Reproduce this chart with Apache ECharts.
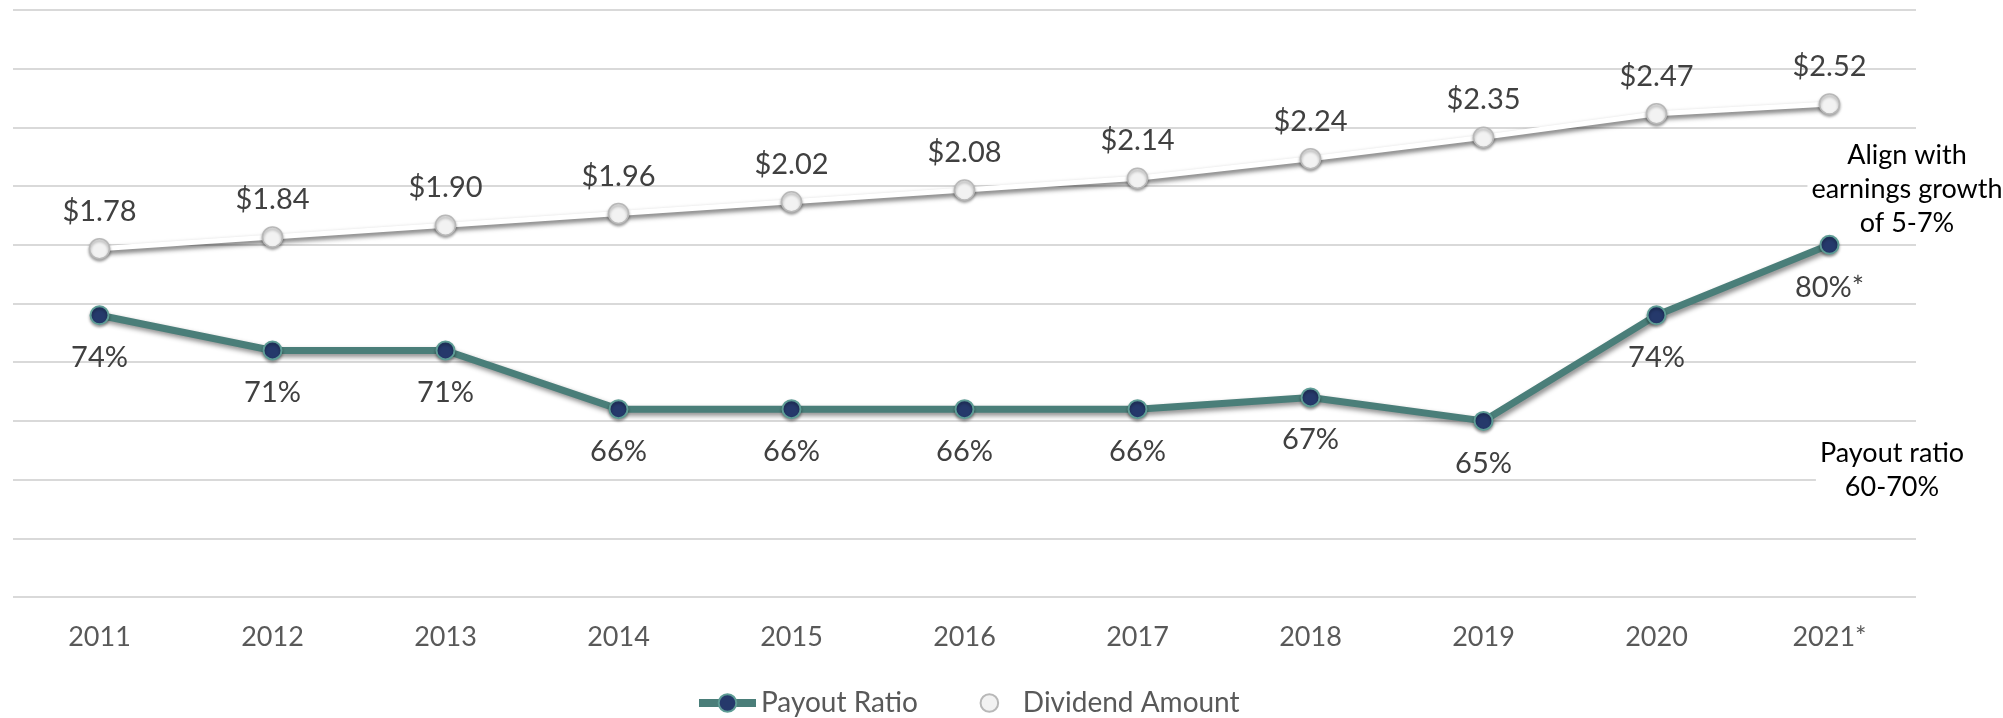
<!DOCTYPE html>
<html>
<head>
<meta charset="utf-8">
<script src="https://cdn.jsdelivr.net/npm/echarts@6/dist/echarts.min.js"></script>
<style>
html, body { margin: 0; padding: 0; background: #fff; }
#chart { width: 2003px; height: 718px; }
</style>
</head>
<body>
<div id="chart"></div>
<script>
var years = ['2011', '2012', '2013', '2014', '2015', '2016', '2017', '2018', '2019', '2020', '2021*']
var payoutRatio = [74, 71, 71, 66, 66, 66, 66, 67, 65, 74, 80]
var dividendAmount = [1.78, 1.84, 1.90, 1.96, 2.02, 2.08, 2.14, 2.24, 2.35, 2.47, 2.52]
var payoutLabels = ['74%', '71%', '71%', '66%', '66%', '66%', '66%', '67%', '65%', '74%', '80%*']

var font = 'Lato, "Open Sans", sans-serif'
var chart = echarts.init(document.getElementById('chart'))
chart.setOption({
  backgroundColor: '#ffffff',
  animation: false,
  textStyle: { fontFamily: font },
  grid: { left: 13, right: 87, top: 10, bottom: 121, containLabel: false },
  legend: {
    top: 684,
    left: 690,
    itemWidth: 57,
    itemHeight: 22,
    itemGap: 39,
    lineStyle: { width: 8 },
    textStyle: { fontSize: 28, color: '#595959', fontFamily: font },
    data: ['Payout Ratio', 'Dividend Amount']
  },
  xAxis: {
    type: 'category',
    data: years,
    boundaryGap: true,
    axisLine: { show: false },
    axisTick: { show: false },
    axisLabel: { fontSize: 27, color: '#595959', margin: 27, fontFamily: font }
  },
  yAxis: [{
    type: 'value',
    min: 50,
    max: 100,
    interval: 5,
    axisLabel: { show: false },
    axisLine: { show: false },
    axisTick: { show: false },
    splitLine: { lineStyle: { color: '#d9d9d9', width: 2 } }
  }, {
    type: 'value',
    min: 0,
    max: 3,
    interval: 0.3,
    axisLabel: { show: false },
    axisLine: { show: false },
    axisTick: { show: false },
    splitLine: { show: false }
  }],
  series: [{
    name: 'Payout Ratio',
    type: 'line',
    yAxisIndex: 0,
    data: payoutRatio,
    symbol: 'circle',
    symbolSize: 18,
    z: 3,
    lineStyle: {
      color: '#4a7e79',
      width: 7,
      shadowColor: 'rgba(0,0,0,0.45)',
      shadowBlur: 5,
      shadowOffsetX: 2,
      shadowOffsetY: 3
    },
    itemStyle: {
      color: '#25396b',
      borderColor: '#5e9c95',
      borderWidth: 2,
      shadowColor: 'rgba(0,0,0,0.35)',
      shadowBlur: 3,
      shadowOffsetY: 2
    },
    label: {
      show: true,
      position: 'bottom',
      distance: 18,
      fontSize: 29,
      color: '#404040',
      fontFamily: font,
      formatter: function (p) { return payoutLabels[p.dataIndex] }
    }
  }, {
    name: 'Dividend Amount',
    type: 'line',
    yAxisIndex: 1,
    data: dividendAmount,
    symbol: 'circle',
    symbolSize: 20,
    z: 2,
    lineStyle: {
      color: '#ffffff',
      width: 5,
      shadowColor: 'rgba(0,0,0,0.6)',
      shadowBlur: 5,
      shadowOffsetX: 1,
      shadowOffsetY: 3
    },
    itemStyle: {
      color: '#f2f2f2',
      borderColor: '#b8b8b8',
      borderWidth: 1.5,
      shadowColor: 'rgba(0,0,0,0.35)',
      shadowBlur: 3,
      shadowOffsetY: 2
    },
    label: {
      show: true,
      position: 'top',
      distance: 12,
      fontSize: 29,
      color: '#404040',
      fontFamily: font,
      formatter: function (p) { return '$' + p.value.toFixed(2) }
    }
  }],
  graphic: [{
    type: 'text',
    x: 1907,
    y: 138,
    z: 1,
    style: {
      text: 'Align with\nearnings growth\nof 5-7%',
      fill: '#000000',
      font: '27px ' + font,
      align: 'center',
      lineHeight: 34,
      backgroundColor: '#ffffff',
      padding: [0, 4]
    }
  }, {
    type: 'text',
    x: 1892,
    y: 436,
    z: 1,
    style: {
      text: 'Payout ratio\n60-70%',
      fill: '#000000',
      font: '27px ' + font,
      align: 'center',
      lineHeight: 34,
      backgroundColor: '#ffffff',
      padding: [0, 4]
    }
  }]
})
</script>
</body>
</html>
